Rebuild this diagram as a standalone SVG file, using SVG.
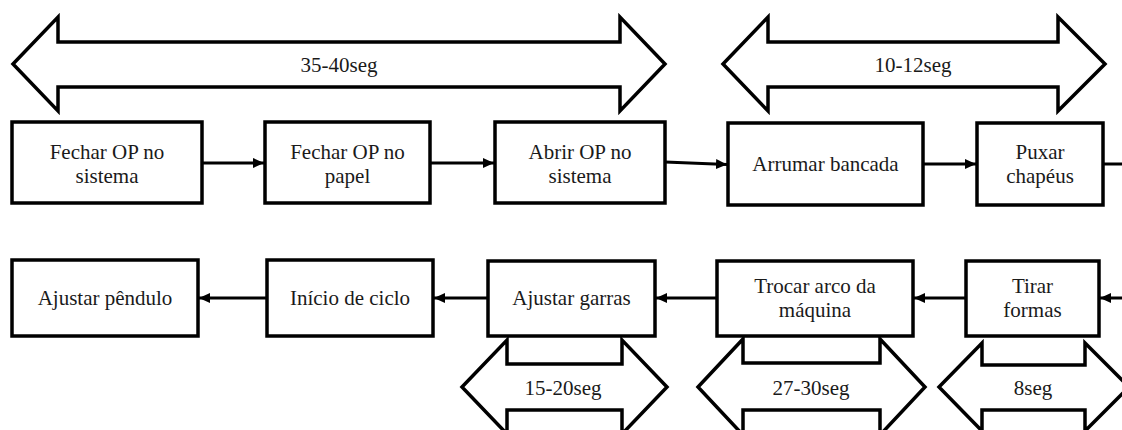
<svg xmlns="http://www.w3.org/2000/svg" width="1122" height="430" viewBox="0 0 1122 430">
  <style>
    .box { fill: #ffffff; stroke: #000000; stroke-width: 3.5; }
    .span { fill: #ffffff; stroke: #000000; stroke-width: 3.5; stroke-linejoin: miter; stroke-miterlimit: 10; }
    .link { fill: none; stroke: #000000; stroke-width: 3; }
    text { font-family: "Liberation Serif", "Times New Roman", "DejaVu Serif", serif; font-size: 21px; fill: #1a1a1a; text-anchor: middle; }
  </style>
  <defs>
    <marker id="head" viewBox="0 0 11 10" refX="11" refY="5" markerWidth="11" markerHeight="10" markerUnits="userSpaceOnUse" orient="auto">
      <path d="M0,0 L11,5 L0,10 Z" fill="#000000"/>
    </marker>
  </defs>

  <rect width="1122" height="430" fill="#ffffff"/>

  <g font-family="'Liberation Serif', 'Times New Roman', 'DejaVu Serif', serif">
  <!-- time spans (double-headed block arrows) -->
  <g id="span-35-40">
    <path class="span" d="M13,64 L58,17 L58,42 L620,42 L620,17 L665,64 L620,111 L620,87 L58,87 L58,111 Z"/>
    <text x="339" y="72">35-40seg</text>
  </g>
  <g id="span-10-12">
    <path class="span" d="M723,64 L768,17 L768,42 L1058,42 L1058,17 L1105,64 L1058,111 L1058,87 L768,87 L768,111 Z"/>
    <text x="913" y="72">10-12seg</text>
  </g>
  <g id="span-15-20">
    <path class="span" d="M462,387 L507,340 L507,364 L622,364 L622,340 L667,387 L622,434 L622,410 L507,410 L507,434 Z"/>
    <text x="563" y="395">15-20seg</text>
  </g>
  <g id="span-27-30">
    <path class="span" d="M698,387 L743,339 L743,363 L880,363 L880,339 L925,387 L880,435 L880,410 L743,410 L743,435 Z"/>
    <text x="811" y="395">27-30seg</text>
  </g>
  <g id="span-8">
    <path class="span" d="M939,387 L982,343 L982,365 L1085,365 L1085,343 L1129,387 L1085,431 L1085,410 L982,410 L982,431 Z"/>
    <text x="1033" y="395">8seg</text>
  </g>

  <!-- connectors -->
  <g id="connectors">
    <line class="link" x1="202" y1="163" x2="264" y2="163" marker-end="url(#head)"/>
    <line class="link" x1="430" y1="163" x2="494" y2="163" marker-end="url(#head)"/>
    <line class="link" x1="665" y1="162" x2="727" y2="164.5" marker-end="url(#head)"/>
    <line class="link" x1="923" y1="164" x2="976" y2="164" marker-end="url(#head)"/>
    <line class="link" x1="1103" y1="164" x2="1122" y2="164"/>
    <line class="link" x1="1122" y1="298" x2="1100" y2="298" marker-end="url(#head)"/>
    <line class="link" x1="966" y1="298" x2="914" y2="298" marker-end="url(#head)"/>
    <line class="link" x1="717" y1="298" x2="656" y2="298" marker-end="url(#head)"/>
    <line class="link" x1="488" y1="298" x2="434" y2="298" marker-end="url(#head)"/>
    <line class="link" x1="267" y1="298" x2="199" y2="298" marker-end="url(#head)"/>
  </g>

  <!-- process steps, top row -->
  <g id="fechar-op-sistema">
    <rect class="box" x="12" y="122" width="190" height="81"/>
    <text x="107" y="159">Fechar OP no</text>
    <text x="107" y="183">sistema</text>
  </g>
  <g id="fechar-op-papel">
    <rect class="box" x="265" y="122" width="165" height="81"/>
    <text x="347.5" y="159">Fechar OP no</text>
    <text x="347.5" y="183">papel</text>
  </g>
  <g id="abrir-op-sistema">
    <rect class="box" x="495" y="122" width="170" height="81"/>
    <text x="580" y="159">Abrir OP no</text>
    <text x="580" y="183">sistema</text>
  </g>
  <g id="arrumar-bancada">
    <rect class="box" x="728" y="123" width="195" height="82"/>
    <text x="825.5" y="171">Arrumar bancada</text>
  </g>
  <g id="puxar-chapeus">
    <rect class="box" x="977" y="123" width="126" height="82"/>
    <text x="1040" y="159">Puxar</text>
    <text x="1040" y="183">chapéus</text>
  </g>

  <!-- process steps, bottom row -->
  <g id="ajustar-pendulo">
    <rect class="box" x="12" y="260" width="186" height="76"/>
    <text x="105" y="305">Ajustar pêndulo</text>
  </g>
  <g id="inicio-ciclo">
    <rect class="box" x="267" y="260" width="166" height="76"/>
    <text x="350" y="305">Início de ciclo</text>
  </g>
  <g id="ajustar-garras">
    <rect class="box" x="488" y="261" width="167" height="75"/>
    <text x="571.5" y="305">Ajustar garras</text>
  </g>
  <g id="trocar-arco">
    <rect class="box" x="717" y="261" width="196" height="75"/>
    <text x="815" y="293">Trocar arco da</text>
    <text x="815" y="317">máquina</text>
  </g>
  <g id="tirar-formas">
    <rect class="box" x="966" y="261" width="133" height="75"/>
    <text x="1032.5" y="293">Tirar</text>
    <text x="1032.5" y="317">formas</text>
  </g>
  </g>
</svg>
